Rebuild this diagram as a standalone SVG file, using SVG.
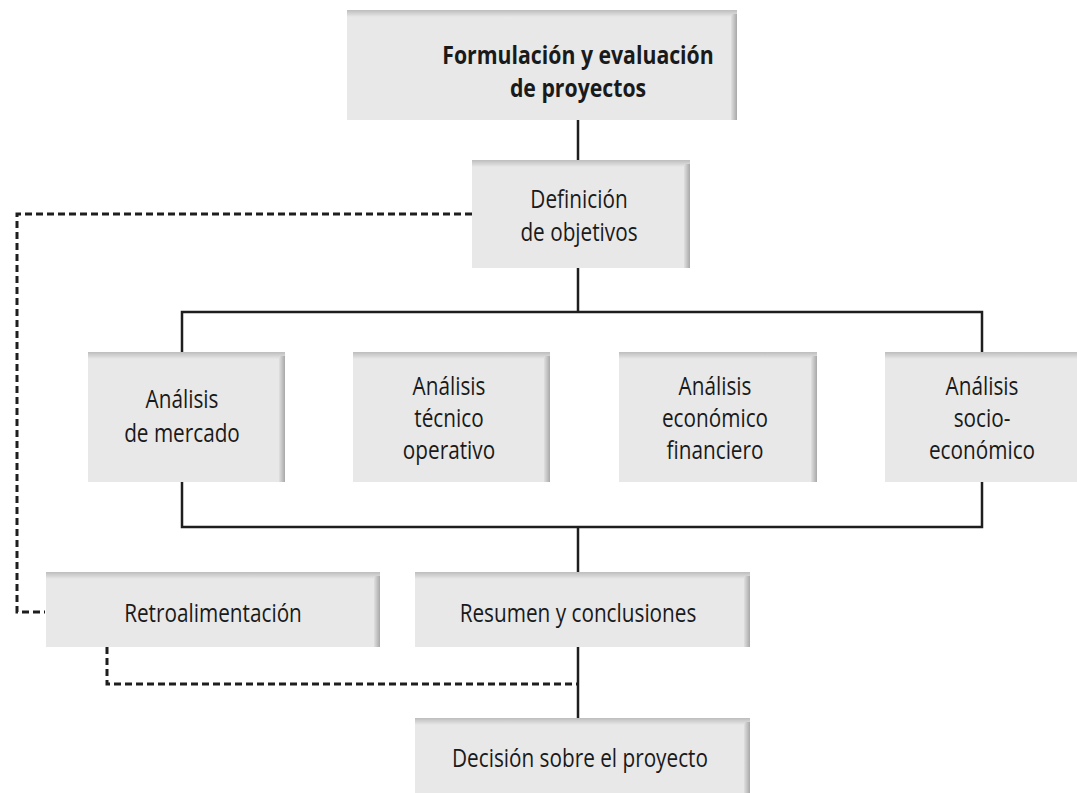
<svg xmlns="http://www.w3.org/2000/svg" width="1077" height="793" viewBox="0 0 1077 793">
<style>
.box{fill:#e8e8e8}
.top{fill:url(#gt)}
.side{fill:url(#gs)}
.t{font-family:"Open Sans","Noto Sans",sans-serif;font-size:25px;fill:#1a1a1a;text-anchor:middle}
.b{font-weight:bold;font-size:25px}
.ln{fill:none;stroke:#1e1e1e;stroke-width:2.5}
.ds{fill:none;stroke:#1e1e1e;stroke-width:3;stroke-dasharray:7 4}
</style>
<defs>
<linearGradient id="gt" x1="0" y1="0" x2="0" y2="1"><stop offset="0" stop-color="#bdbdbd"/><stop offset="1" stop-color="#e8e8e8"/></linearGradient>
<linearGradient id="gs" x1="0" y1="0" x2="1" y2="0"><stop offset="0" stop-color="#e0e0e0"/><stop offset="1" stop-color="#a8a8a8"/></linearGradient>
</defs>
<rect width="1077" height="793" fill="#ffffff"/>
<g id="connectors">
<path class="ln" d="M578 120V160M578 268V312M182 352V312H982V352M182 482V527H982V482M578 527V572M578 647V718"/>
<path class="ds" d="M472 214H17V612H45M107 647V684H578"/>
</g>
<g id="n-top"><rect class="box" x="347" y="10" width="390" height="110"/><rect class="top" x="347" y="10" width="390" height="7"/><rect class="side" x="731" y="14" width="6" height="106"/>
<g transform="translate(578 0) scale(0.85 1)"><text class="t b" x="0" y="64">Formulación y evaluación</text><text class="t b" x="0" y="97">de proyectos</text></g></g>
<g id="n-def"><rect class="box" x="472" y="160" width="218" height="108"/><rect class="top" x="472" y="160" width="218" height="7"/><rect class="side" x="684" y="164" width="6" height="104"/>
<g transform="translate(579 0) scale(0.83 1)"><text class="t" x="0" y="208">Definición</text><text class="t" x="0" y="241">de objetivos</text></g></g>
<g id="n-mer"><rect class="box" x="88" y="352" width="197" height="130"/><rect class="top" x="88" y="352" width="197" height="7"/><rect class="side" x="279" y="356" width="6" height="126"/>
<g transform="translate(182 0) scale(0.83 1)"><text class="t" x="0" y="408">Análisis</text><text class="t" x="0" y="442">de mercado</text></g></g>
<g id="n-tec"><rect class="box" x="353" y="352" width="197" height="130"/><rect class="top" x="353" y="352" width="197" height="7"/><rect class="side" x="544" y="356" width="6" height="126"/>
<g transform="translate(449 0) scale(0.83 1)"><text class="t" x="0" y="395">Análisis</text><text class="t" x="0" y="427">técnico</text><text class="t" x="0" y="459">operativo</text></g></g>
<g id="n-eco"><rect class="box" x="619" y="352" width="198" height="130"/><rect class="top" x="619" y="352" width="198" height="7"/><rect class="side" x="811" y="356" width="6" height="126"/>
<g transform="translate(715 0) scale(0.83 1)"><text class="t" x="0" y="395">Análisis</text><text class="t" x="0" y="427">económico</text><text class="t" x="0" y="459">financiero</text></g></g>
<g id="n-soc"><rect class="box" x="885" y="352" width="192" height="130"/><rect class="top" x="885" y="352" width="192" height="7"/>
<g transform="translate(982 0) scale(0.83 1)"><text class="t" x="0" y="395">Análisis</text><text class="t" x="0" y="427">socio-</text><text class="t" x="0" y="459">económico</text></g></g>
<g id="n-ret"><rect class="box" x="46" y="572" width="334" height="75"/><rect class="top" x="46" y="572" width="334" height="7"/><rect class="side" x="374" y="576" width="6" height="71"/>
<g transform="translate(213 0) scale(0.83 1)"><text class="t" x="0" y="622">Retroalimentación</text></g></g>
<g id="n-res"><rect class="box" x="415" y="572" width="335" height="75"/><rect class="top" x="415" y="572" width="335" height="7"/><rect class="side" x="744" y="576" width="6" height="71"/>
<g transform="translate(578 0) scale(0.83 1)"><text class="t" x="0" y="622">Resumen y conclusiones</text></g></g>
<g id="n-dec"><rect class="box" x="415" y="718" width="335" height="75"/><rect class="top" x="415" y="718" width="335" height="7"/><rect class="side" x="744" y="722" width="6" height="71"/>
<g transform="translate(580 0) scale(0.83 1)"><text class="t" x="0" y="767">Decisión sobre el proyecto</text></g></g>
</svg>
